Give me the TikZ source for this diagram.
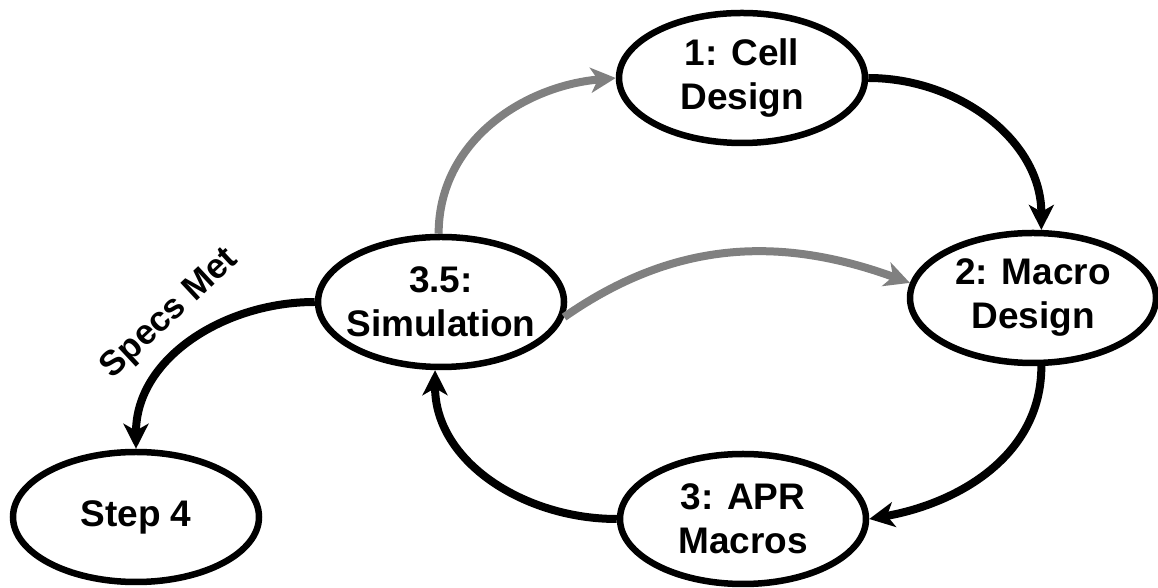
\documentclass[tikz,border=0pt]{standalone}
\usepackage{fontspec}
\setmainfont{Liberation Sans}
\usetikzlibrary{arrows.meta,shapes.geometric}
\tikzset{
  stage/.style={ellipse, draw=black, line width=6.5pt, minimum width=246pt, minimum height=130pt,
    inner xsep=-25pt, inner ysep=0pt, align=center,
    font=\fontsize{37}{44}\selectfont\bfseries},
  flow/.style={line width=8pt, -{Stealth[length=25pt,width=25pt,inset=7pt]}},
  blackflow/.style={flow, draw=black},
  grayflow/.style={flow, draw=gray, color=gray},
  lbl/.style={font=\fontsize{35}{42}\selectfont\bfseries}
}
\begin{document}
\begin{tikzpicture}[x=1pt,y=1pt]
\useasboundingbox (0,0) rectangle (1158,588);
\node[stage] (cell) at (742,510) {1: Cell\\Design};
\node[stage] (macro) at (1033,290) {2: Macro\\Design};
\node[stage] (apr) at (743,69) {3: APR\\Macros};
\node[stage] (sim) at (441,286) {3.5:\\Simulation};
\node[stage] (step) at (136,71) {Step 4};
\draw[grayflow] (sim.92) to[out=90,in=185] (cell.west);
\draw[blackflow] (cell.east) to[out=0,in=90] (macro.83);
\draw[grayflow] (sim.-7) to[out=35,in=160] (macro.173);
\draw[blackflow] (macro.-83) to[out=-90,in=10] (apr.east);
\draw[blackflow] (apr.west) to[out=180,in=-90] (sim.265);
\draw[blackflow] (sim.west) to[out=180,in=90] (step.north);
\node[lbl, rotate=43] (specs) at (170,274) {Specs Met};
\end{tikzpicture}
\end{document}
